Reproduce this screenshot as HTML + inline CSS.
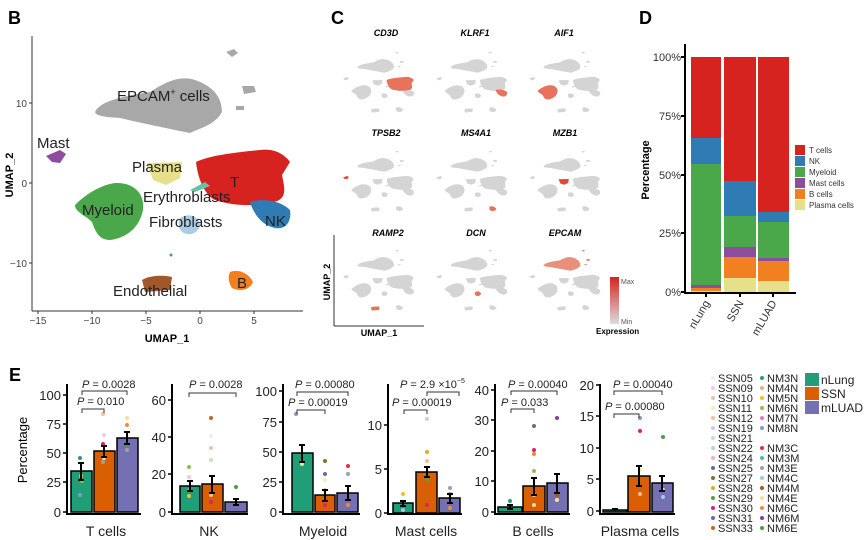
<!DOCTYPE html>
<html><head><meta charset="utf-8"><style>
html,body{margin:0;padding:0;background:#fff}
svg{display:block;font-family:"Liberation Sans",Arial,sans-serif}
</style></head><body>
<svg width="865" height="540" viewBox="0 0 865 540" xmlns="http://www.w3.org/2000/svg">
<defs>
<path id="cEp" d="M95,112 C100,100 130,95 150,92 C165,82 180,75 195,80 C210,85 222,95 222,112 C215,125 200,128 190,133 C175,130 150,125 120,118 C105,117 96,116 95,112Z M226,52 l8,-3 l4,4 l-6,4Z M242,86 l12,0 l2,6 l-12,2Z M236,106 l8,0 l0,4 l-8,0Z"/>
<path id="cMa" d="M46,156 L60,150 L66,154 L60,163 L52,162 Z"/>
<path id="cPl" d="M147,163 L182,162 L180,178 L166,185 L153,180 Z"/>
<path id="cT" d="M196,162 C210,155 240,152 260,150 C275,148 285,155 290,162 L282,175 C285,190 288,200 270,203 C250,207 230,205 215,200 C205,195 198,180 196,162Z"/>
<path id="cNK" d="M250,202 C262,198 280,200 290,210 C292,222 285,230 275,228 C265,226 255,218 250,202Z"/>
<path id="cMy" d="M75,205 C85,195 100,185 115,183 C135,182 145,195 143,210 C140,225 130,237 110,240 C98,240 95,230 92,222 C85,215 75,212 75,205Z"/>
<path id="cFi" d="M180,218 C188,213 198,215 200,225 C198,233 190,237 182,232 C178,228 178,222 180,218Z"/>
<path id="cEr" d="M190,190 L205,182 L210,186 L195,192Z"/>
<path id="cEn" d="M142,280 C150,275 165,275 172,277 L170,290 L145,292 Z"/>
<path id="cB" d="M230,272 C240,268 250,275 253,282 C250,290 240,292 232,288 C228,282 228,276 230,272Z"/>
<g id="mini" fill="#d4d4d4">
<use href="#cEp"/><use href="#cMa"/><use href="#cPl"/><use href="#cT"/><use href="#cNK"/><use href="#cMy"/><use href="#cFi"/><use href="#cEr"/><use href="#cEn"/><use href="#cB"/>
</g>
<linearGradient id="grad" x1="0" y1="0" x2="0" y2="1"><stop offset="0" stop-color="#d7231f"/><stop offset="1" stop-color="#dcdcdc"/></linearGradient>
</defs>

<!-- Panel B -->
<text x="8" y="24" font-size="18" font-weight="bold">B</text>
<use href="#cEp" fill="#a8a8a8"/><use href="#cMa" fill="#8e4c9d"/><use href="#cPl" fill="#e7e08a"/>
<use href="#cT" fill="#d7231f"/><use href="#cNK" fill="#2f7cb5"/><use href="#cMy" fill="#4aa84a"/>
<use href="#cFi" fill="#a9cde6"/><use href="#cEr" fill="#66c2a5"/><use href="#cEn" fill="#a0582a"/><use href="#cB" fill="#f08020"/>
<circle cx="171" cy="255" r="1.5" fill="#4aa84a"/>
<g font-size="15" fill="#222">
<text x="117" y="101">EPCAM<tspan font-size="9" dy="-6">+</tspan><tspan dy="6"> cells</tspan></text>
<text x="37" y="148">Mast</text><text x="132" y="172">Plasma</text><text x="230" y="187">T</text>
<text x="143" y="202">Erythroblasts</text><text x="82" y="215">Myeloid</text><text x="149" y="227">Fibroblasts</text>
<text x="265" y="226">NK</text><text x="113" y="296">Endothelial</text><text x="237" y="288">B</text>
</g>
<g stroke="#333" stroke-width="1"><line x1="32" y1="36" x2="32" y2="311"/><line x1="32" y1="311" x2="303" y2="311"/>
<line x1="29" y1="103" x2="32" y2="103"/><line x1="29" y1="183" x2="32" y2="183"/><line x1="29" y1="263" x2="32" y2="263"/>
<line x1="38" y1="311" x2="38" y2="314"/><line x1="92" y1="311" x2="92" y2="314"/><line x1="146" y1="311" x2="146" y2="314"/><line x1="200" y1="311" x2="200" y2="314"/><line x1="254" y1="311" x2="254" y2="314"/></g>
<g font-size="10" fill="#444" text-anchor="end"><text x="27" y="107">10</text><text x="27" y="187">0</text><text x="27" y="267">−10</text></g>
<g font-size="10" fill="#444" text-anchor="middle"><text x="38" y="324">−15</text><text x="92" y="324">−10</text><text x="146" y="324">−5</text><text x="200" y="324">0</text><text x="254" y="324">5</text></g>
<text x="167" y="342" font-size="11" font-weight="bold" text-anchor="middle">UMAP_1</text>
<text transform="translate(13,175) rotate(-90)" font-size="11" font-weight="bold" text-anchor="middle">UMAP_2</text>

<!-- Panel C -->
<text x="331" y="24" font-size="18" font-weight="bold">C</text>
<g font-size="9" font-weight="bold" font-style="italic" text-anchor="middle">
<text x="386" y="36">CD3D</text><text x="475" y="36">KLRF1</text><text x="564" y="36">AIF1</text>
<text x="386" y="136">TPSB2</text><text x="476" y="136">MS4A1</text><text x="565" y="136">MZB1</text>
<text x="388" y="236">RAMP2</text><text x="476" y="236">DCN</text><text x="565" y="236">EPCAM</text>
</g>
<g transform="translate(329.7,39.5) scale(0.29,0.25)"><use href="#mini"/><use href="#cT" fill="#e8735c"/></g>
<g transform="translate(423,39.5) scale(0.29,0.25)"><use href="#mini"/><use href="#cNK" fill="#e8735c"/></g>
<g transform="translate(516,39.5) scale(0.29,0.25)"><use href="#mini"/><use href="#cMy" fill="#e8735c"/></g>
<g transform="translate(329.7,138.5) scale(0.29,0.25)"><use href="#mini"/><use href="#cMa" fill="#e04a30"/></g>
<g transform="translate(423,138.5) scale(0.29,0.25)"><use href="#mini"/><use href="#cB" fill="#e8735c"/></g>
<g transform="translate(516,138.5) scale(0.29,0.25)"><use href="#mini"/><use href="#cPl" fill="#e04a30"/></g>
<g transform="translate(329.7,237.5) scale(0.29,0.25)"><use href="#mini"/><use href="#cEn" fill="#e8735c"/></g>
<g transform="translate(423,237.5) scale(0.29,0.25)"><use href="#mini"/><use href="#cFi" fill="#e8735c"/></g>
<g transform="translate(516,237.5) scale(0.29,0.25)"><use href="#mini"/><use href="#cEp" fill="#e8907c"/></g>
<g stroke="#333" stroke-width="1"><line x1="334" y1="235" x2="334" y2="326"/><line x1="334" y1="326" x2="424" y2="326"/></g>
<text transform="translate(330,282) rotate(-90)" font-size="9" font-weight="bold" text-anchor="middle">UMAP_2</text>
<text x="379" y="336" font-size="9" font-weight="bold" text-anchor="middle">UMAP_1</text>
<rect x="610" y="277" width="9" height="47" fill="url(#grad)"/>
<text x="621" y="284" font-size="7" fill="#555">Max</text><text x="621" y="324" font-size="7" fill="#555">Min</text>
<text x="596" y="334" font-size="8" font-weight="bold">Expression</text>

<!-- Panel D -->
<text x="639" y="24" font-size="18" font-weight="bold">D</text>
<g>
<!-- nLung -->
<rect x="691" y="57" width="30" height="81" fill="#d7231f"/><rect x="691" y="138" width="30" height="26" fill="#2f7cb5"/>
<rect x="691" y="164" width="30" height="121" fill="#4aa84a"/><rect x="691" y="285" width="30" height="3" fill="#8e4c9d"/>
<rect x="691" y="288" width="30" height="3" fill="#f08020"/><rect x="691" y="291" width="30" height="1.5" fill="#e7e08a"/>
<!-- SSN -->
<rect x="724" y="57" width="32" height="124" fill="#d7231f"/><rect x="724" y="181" width="32" height="35" fill="#2f7cb5"/>
<rect x="724" y="216" width="32" height="31" fill="#4aa84a"/><rect x="724" y="247" width="32" height="10" fill="#8e4c9d"/>
<rect x="724" y="257" width="32" height="21" fill="#f08020"/><rect x="724" y="278" width="32" height="14" fill="#e7e08a"/>
<!-- mLUAD -->
<rect x="758" y="57" width="31" height="155" fill="#d7231f"/><rect x="758" y="212" width="31" height="10" fill="#2f7cb5"/>
<rect x="758" y="222" width="31" height="36" fill="#4aa84a"/><rect x="758" y="258" width="31" height="3" fill="#8e4c9d"/>
<rect x="758" y="261" width="31" height="20" fill="#f08020"/><rect x="758" y="281" width="31" height="11" fill="#e7e08a"/>
</g>
<g stroke="#000" stroke-width="2"><line x1="685" y1="44" x2="685" y2="293"/><line x1="684" y1="293" x2="796" y2="293"/>
<line x1="681" y1="57" x2="685" y2="57"/><line x1="681" y1="116" x2="685" y2="116"/><line x1="681" y1="175" x2="685" y2="175"/><line x1="681" y1="233" x2="685" y2="233"/><line x1="681" y1="292" x2="685" y2="292"/>
<line x1="706" y1="293" x2="706" y2="297"/><line x1="740" y1="293" x2="740" y2="297"/><line x1="773" y1="293" x2="773" y2="297"/></g>
<g font-size="11" fill="#333" text-anchor="end"><text x="681" y="61">100%</text><text x="681" y="120">75%</text><text x="681" y="179">50%</text><text x="681" y="237">25%</text><text x="681" y="296">0%</text></g>
<g font-size="11" fill="#333" text-anchor="end">
<text transform="translate(710,303) rotate(-60)">nLung</text><text transform="translate(744,303) rotate(-60)">SSN</text><text transform="translate(777,303) rotate(-60)">mLUAD</text></g>
<text transform="translate(649,170) rotate(-90)" font-size="11" font-weight="bold" text-anchor="middle">Percentage</text>
<g font-size="8" fill="#333">
<rect x="795" y="145" width="10" height="10" fill="#d7231f"/><text x="809" y="153">T cells</text>
<rect x="795" y="156" width="10" height="10" fill="#2f7cb5"/><text x="809" y="164">NK</text>
<rect x="795" y="167" width="10" height="10" fill="#4aa84a"/><text x="809" y="175">Myeloid</text>
<rect x="795" y="178" width="10" height="10" fill="#8e4c9d"/><text x="809" y="186">Mast cells</text>
<rect x="795" y="189" width="10" height="10" fill="#f08020"/><text x="809" y="197">B cells</text>
<rect x="795" y="200" width="10" height="10" fill="#e7e08a"/><text x="809" y="208">Plasma cells</text>
</g>

<!-- Panel E -->
<text x="9" y="381" font-size="18" font-weight="bold">E</text>
<text transform="translate(27,450) rotate(-90)" font-size="13" text-anchor="middle">Percentage</text>
<g stroke="#000" stroke-width="1.5">
<!-- T cells -->
<rect x="71" y="471" width="21" height="41" fill="#1f9e77"/><rect x="94" y="451" width="21" height="61" fill="#d95f02"/><rect x="117" y="438" width="21" height="74" fill="#7570b3"/>
<!-- NK -->
<rect x="180" y="486" width="20" height="26" fill="#1f9e77"/><rect x="202" y="484" width="21" height="28" fill="#d95f02"/><rect x="225" y="502" width="22" height="10" fill="#7570b3"/>
<!-- Myeloid -->
<rect x="292" y="453" width="21" height="59" fill="#1f9e77"/><rect x="315" y="495" width="20" height="17" fill="#d95f02"/><rect x="337" y="493" width="21" height="19" fill="#7570b3"/>
<!-- Mast -->
<rect x="393" y="503" width="20" height="10" fill="#1f9e77"/><rect x="416" y="472" width="21" height="41" fill="#d95f02"/><rect x="439" y="498" width="21" height="15" fill="#7570b3"/>
<!-- B -->
<rect x="498" y="507" width="24" height="5" fill="#1f9e77"/><rect x="523" y="486" width="22" height="26" fill="#d95f02"/><rect x="547" y="483" width="21" height="29" fill="#7570b3"/>
<!-- Plasma -->
<rect x="603" y="510" width="24" height="2" fill="#1f9e77"/><rect x="628" y="476" width="22" height="36" fill="#d95f02"/><rect x="652" y="483" width="21" height="29" fill="#7570b3"/>
</g>
<!-- dots -->
<g>
<circle cx="80" cy="458" r="2" fill="#2e9a7a"/><circle cx="81" cy="476" r="2" fill="#f0c030"/><circle cx="82" cy="481" r="2" fill="#8cc050"/><circle cx="80" cy="495" r="2" fill="#8899c8"/>
<circle cx="103" cy="414" r="2" fill="#f5c28f"/><circle cx="104" cy="435" r="2" fill="#f5c9dd"/><circle cx="103" cy="444" r="2" fill="#d6246e"/><circle cx="104" cy="458" r="2" fill="#eee39a"/><circle cx="103" cy="462" r="2" fill="#a0a0a0"/>
<circle cx="127" cy="418" r="2" fill="#eee39a"/><circle cx="127" cy="425" r="2" fill="#f08a30"/><circle cx="127" cy="445" r="2" fill="#48a048"/><circle cx="127" cy="450" r="2" fill="#a0a0a0"/>
<circle cx="189" cy="467" r="2" fill="#8cc050"/><circle cx="189" cy="477" r="2" fill="#f5c9dd"/><circle cx="189" cy="490" r="2" fill="#8899c8"/><circle cx="189" cy="496" r="2" fill="#f0c030"/>
<circle cx="211" cy="418" r="2" fill="#d55e1f"/><circle cx="211" cy="436" r="2" fill="#eeeef4"/><circle cx="211" cy="448" r="2" fill="#d9c9b0"/><circle cx="211" cy="460" r="2" fill="#c6e0c4"/><circle cx="211" cy="495" r="2" fill="#f5c28f"/><circle cx="211" cy="502" r="2" fill="#d6246e"/>
<circle cx="236" cy="487" r="2" fill="#48a048"/>
<circle cx="296" cy="414" r="2" fill="#8899c8"/><circle cx="302" cy="464" r="2" fill="#eee39a"/>
<circle cx="325" cy="461" r="2" fill="#8a6d2e"/><circle cx="325" cy="474" r="2" fill="#6a68b0"/><circle cx="325" cy="480" r="2" fill="#f3f2b0"/><circle cx="325" cy="490" r="2" fill="#f4b1b6"/><circle cx="325" cy="505" r="2" fill="#d6246e"/>
<circle cx="348" cy="466" r="2" fill="#e0303a"/><circle cx="348" cy="474" r="2" fill="#a0a0a0"/><circle cx="348" cy="505" r="2" fill="#f08a30"/>
<circle cx="403" cy="494" r="2" fill="#f0c030"/><circle cx="403" cy="510" r="2" fill="#9ccbe8"/>
<circle cx="427" cy="419" r="2" fill="#d7c8e0"/><circle cx="427" cy="452" r="2" fill="#e6ab1a"/><circle cx="427" cy="461" r="2" fill="#f5c28f"/><circle cx="427" cy="480" r="2" fill="#55a040"/><circle cx="427" cy="505" r="2" fill="#d6246e"/>
<circle cx="450" cy="488" r="2" fill="#a0a0a0"/><circle cx="450" cy="494" r="2" fill="#8899c8"/><circle cx="450" cy="508" r="2" fill="#f08a30"/>
<circle cx="510" cy="501" r="2" fill="#2e9a7a"/>
<circle cx="534" cy="426" r="2" fill="#6d6d7a"/><circle cx="534" cy="450" r="2" fill="#d6246e"/><circle cx="534" cy="454" r="2" fill="#f08a30"/><circle cx="534" cy="471" r="2" fill="#8cc050"/><circle cx="534" cy="495" r="2" fill="#d7c8e0"/><circle cx="534" cy="505" r="2" fill="#eee39a"/>
<circle cx="557" cy="418" r="2" fill="#8a3ca0"/><circle cx="557" cy="495" r="2" fill="#a0582a"/><circle cx="557" cy="500" r="2" fill="#eee39a"/>
<circle cx="640" cy="418" r="2" fill="#8899c8"/><circle cx="640" cy="431" r="2" fill="#d6246e"/><circle cx="640" cy="470" r="2" fill="#f3f2b0"/><circle cx="640" cy="494" r="2" fill="#f5c28f"/>
<circle cx="663" cy="437" r="2" fill="#48a048"/><circle cx="663" cy="490" r="2" fill="#eee39a"/><circle cx="663" cy="497" r="2" fill="#9ccbe8"/>
</g>
<!-- error bars -->
<g stroke="#000" stroke-width="2" fill="none">
<path d="M81,463 V480 M78,463 H84 M78,480 H84"/><path d="M104,446 V457 M101,446 H107 M101,457 H107"/><path d="M127,432 V444 M124,432 H130 M124,444 H130"/>
<path d="M190,481 V491 M187,481 H193 M187,491 H193"/><path d="M212,476 V493 M209,476 H215 M209,493 H215"/><path d="M236,499 V505 M233,499 H239 M233,505 H239"/>
<path d="M302,445 V462 M299,445 H305 M299,462 H305"/><path d="M325,490 V501 M322,490 H328 M322,501 H328"/><path d="M348,486 V500 M345,486 H351 M345,500 H351"/>
<path d="M403,501 V506 M400,501 H406 M400,506 H406"/><path d="M427,467 V477 M424,467 H430 M424,477 H430"/><path d="M450,494 V503 M447,494 H453 M447,503 H453"/>
<path d="M510,505 V509 M507,505 H513 M507,509 H513"/><path d="M534,478 V495 M531,478 H537 M531,495 H537"/><path d="M557,474 V493 M554,474 H560 M554,493 H560"/>
<path d="M615,509 V511 M612,509 H618"/><path d="M639,466 V486 M636,466 H642 M636,486 H642"/><path d="M662,476 V491 M659,476 H665 M659,491 H665"/>
</g>
<!-- axes E -->
<g stroke="#000" stroke-width="2" fill="none">
<path d="M67,384 V514 H141"/><path d="M172,384 V514 H248"/><path d="M283,384 V514 H360"/><path d="M388,384 V514 H462"/><path d="M495,384 V514 H570"/><path d="M600,384 V514 H675"/>
</g>
<g stroke="#000" stroke-width="1.5">
<path d="M63,395 H67 M63,424 H67 M63,453 H67 M63,482 H67 M63,512 H67"/>
<path d="M168,400 H172 M168,437 H172 M168,474 H172 M168,512 H172"/>
<path d="M279,391 H283 M279,422 H283 M279,452 H283 M279,482 H283 M279,512 H283"/>
<path d="M384,425 H388 M384,469 H388 M384,513 H388"/>
<path d="M491,390 H495 M491,420 H495 M491,451 H495 M491,481 H495 M491,512 H495"/>
<path d="M596,385 H600 M596,416 H600 M596,448 H600 M596,479 H600 M596,511 H600"/>
</g>
<g font-size="13" fill="#222" text-anchor="end">
<text x="61" y="400">100</text><text x="61" y="429">75</text><text x="61" y="458">50</text><text x="61" y="487">25</text><text x="61" y="517">0</text>
<text x="166" y="405">60</text><text x="166" y="442">40</text><text x="166" y="479">20</text><text x="166" y="517">0</text>
<text x="277" y="396">100</text><text x="277" y="427">75</text><text x="277" y="457">50</text><text x="277" y="487">25</text><text x="277" y="517">0</text>
<text x="382" y="430">10</text><text x="382" y="474">5</text><text x="382" y="518">0</text>
<text x="489" y="395">40</text><text x="489" y="425">30</text><text x="489" y="456">20</text><text x="489" y="486">10</text><text x="489" y="517">0</text>
<text x="594" y="390">20</text><text x="594" y="421">15</text><text x="594" y="453">10</text><text x="594" y="484">5</text><text x="594" y="516">0</text>
</g>
<g font-size="14" fill="#222" text-anchor="middle">
<text x="106" y="536">T cells</text><text x="209" y="536">NK</text><text x="323" y="536">Myeloid</text><text x="426" y="536">Mast cells</text><text x="533" y="536">B cells</text><text x="640" y="536">Plasma cells</text>
</g>
<!-- p-values -->
<g stroke="#333" stroke-width="1" fill="none">
<path d="M82,395 V391 H127 V395"/><path d="M82,413 V409 H104 V413"/>
<path d="M189,397 V393 H236 V397"/>
<path d="M297,396 V392 H348 V396"/><path d="M297,414 V410 H325 V414"/>
<path d="M427,396 V392 H459 V396"/><path d="M404,414 V410 H427 V414"/>
<path d="M511,395 V391 H557 V395"/><path d="M511,413 V409 H534 V413"/>
<path d="M614,395 V391 H662 V395"/><path d="M614,418 V414 H639 V418"/>
</g>
<g font-size="11" fill="#222">
<text x="82" y="388"><tspan font-style="italic">P</tspan> = 0.0028</text><text x="77" y="405"><tspan font-style="italic">P</tspan> = 0.010</text>
<text x="189" y="388"><tspan font-style="italic">P</tspan> = 0.0028</text>
<text x="295" y="388"><tspan font-style="italic">P</tspan> = 0.00080</text><text x="288" y="406"><tspan font-style="italic">P</tspan> = 0.00019</text>
<text x="400" y="388"><tspan font-style="italic">P</tspan> = 2.9 ×10<tspan font-size="7" dy="-5">−5</tspan></text><text x="392" y="406"><tspan font-style="italic">P</tspan> = 0.00019</text>
<text x="508" y="388"><tspan font-style="italic">P</tspan> = 0.00040</text><text x="501" y="406"><tspan font-style="italic">P</tspan> = 0.033</text>
<text x="613" y="388"><tspan font-style="italic">P</tspan> = 0.00040</text><text x="605" y="410"><tspan font-style="italic">P</tspan> = 0.00080</text>
</g>
<!-- legend E -->
<g font-size="11" fill="#222">
<circle cx="713" cy="378" r="2" fill="#eeeef4"/><text x="718" y="382">SSN05</text>
<circle cx="713" cy="388" r="2" fill="#f5c9dd"/><text x="718" y="392">SSN09</text>
<circle cx="713" cy="398" r="2" fill="#d9c9b0"/><text x="718" y="402">SSN10</text>
<circle cx="713" cy="408" r="2" fill="#f3f2b0"/><text x="718" y="412">SSN11</text>
<circle cx="713" cy="418" r="2" fill="#f5c28f"/><text x="718" y="422">SSN12</text>
<circle cx="713" cy="428" r="2" fill="#d7c8e0"/><text x="718" y="432">SSN19</text>
<circle cx="713" cy="438" r="2" fill="#c6e0c4"/><text x="718" y="442">SSN21</text>
<circle cx="713" cy="448" r="2" fill="#b8cfe0"/><text x="718" y="452">SSN22</text>
<circle cx="713" cy="458" r="2" fill="#f4b1b6"/><text x="718" y="462">SSN24</text>
<circle cx="713" cy="468" r="2" fill="#6d6d7a"/><text x="718" y="472">SSN25</text>
<circle cx="713" cy="478" r="2" fill="#8a6d2e"/><text x="718" y="482">SSN27</text>
<circle cx="713" cy="488" r="2" fill="#e6ab1a"/><text x="718" y="492">SSN28</text>
<circle cx="713" cy="498" r="2" fill="#55a040"/><text x="718" y="502">SSN29</text>
<circle cx="713" cy="508" r="2" fill="#d6246e"/><text x="718" y="512">SSN30</text>
<circle cx="713" cy="518" r="2" fill="#6a68b0"/><text x="718" y="522">SSN31</text>
<circle cx="713" cy="528" r="2" fill="#d55e1f"/><text x="718" y="532">SSN33</text>
<circle cx="762" cy="378" r="2" fill="#2e9a7a"/><text x="767" y="382">NM3N</text>
<circle cx="762" cy="388" r="2" fill="#d9b48a"/><text x="767" y="392">NM4N</text>
<circle cx="762" cy="398" r="2" fill="#f0c030"/><text x="767" y="402">NM5N</text>
<circle cx="762" cy="408" r="2" fill="#8cc050"/><text x="767" y="412">NM6N</text>
<circle cx="762" cy="418" r="2" fill="#e07bb8"/><text x="767" y="422">NM7N</text>
<circle cx="762" cy="428" r="2" fill="#8899c8"/><text x="767" y="432">NM8N</text>
<circle cx="762" cy="448" r="2" fill="#e0303a"/><text x="767" y="452">NM3C</text>
<circle cx="762" cy="458" r="2" fill="#56b89a"/><text x="767" y="462">NM3M</text>
<circle cx="762" cy="468" r="2" fill="#a0a0a0"/><text x="767" y="472">NM3E</text>
<circle cx="762" cy="478" r="2" fill="#9ccbe8"/><text x="767" y="482">NM4C</text>
<circle cx="762" cy="488" r="2" fill="#a0582a"/><text x="767" y="492">NM4M</text>
<circle cx="762" cy="498" r="2" fill="#eee39a"/><text x="767" y="502">NM4E</text>
<circle cx="762" cy="508" r="2" fill="#f08a30"/><text x="767" y="512">NM6C</text>
<circle cx="762" cy="518" r="2" fill="#8a3ca0"/><text x="767" y="522">NM6M</text>
<circle cx="762" cy="528" r="2" fill="#48a048"/><text x="767" y="532">NM6E</text>
</g>
<g font-size="12" fill="#222">
<rect x="805" y="373" width="14" height="13" fill="#1f9e77"/><text x="821" y="384">nLung</text>
<rect x="805" y="387" width="14" height="13" fill="#d95f02"/><text x="821" y="398">SSN</text>
<rect x="805" y="401" width="14" height="13" fill="#7570b3"/><text x="821" y="412">mLUAD</text>
</g>
</svg>
</body></html>
